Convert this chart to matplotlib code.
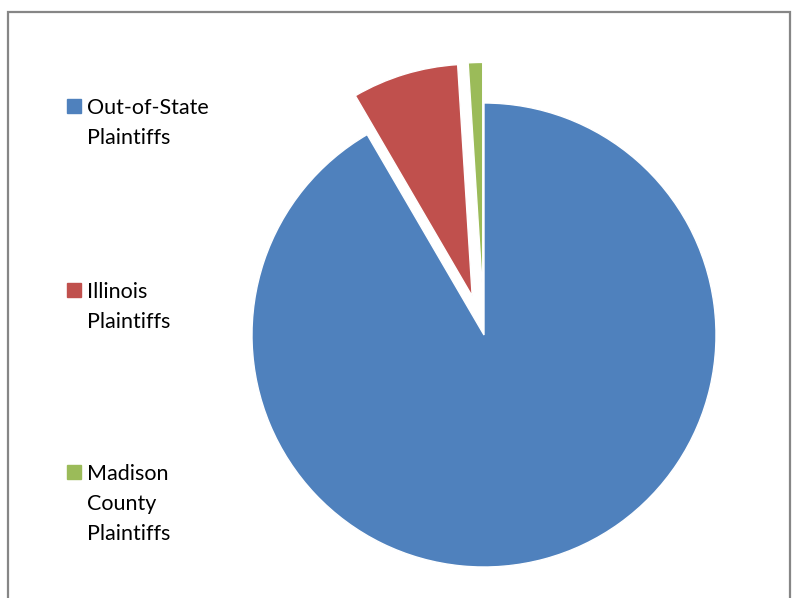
import matplotlib
matplotlib.use("Agg")
import matplotlib.pyplot as plt
from matplotlib.patches import Rectangle

plt.rcParams["font.family"] = ["Lato", "DejaVu Sans"]

# ---------------------------------------------------------------- data
labels = ["Out-of-State\nPlaintiffs", "Illinois\nPlaintiffs", "Madison\nCounty\nPlaintiffs"]
shares = [91.6, 7.4, 1.0]
explode = [0.0, 0.175, 0.175]
colors = ["#4F81BD", "#C0504D", "#9BBB59"]

W, H = 794, 598
fig = plt.figure(figsize=(W / 100, H / 100), dpi=100)

# pie centre (484, 335) px, radius 232 px
cx, cy, r = 484, 335, 232
ax = fig.add_axes([(cx - r) / W, (H - cy - r) / H, 2 * r / W, 2 * r / H])
wedges, _ = ax.pie(shares, colors=colors, explode=explode, startangle=90,
                   counterclock=False, radius=1,
                   wedgeprops=dict(edgecolor="white", linewidth=1.0))
for w in wedges:
    w.set_clip_on(False)
ax.set_xlim(-1, 1)
ax.set_ylim(-1, 1)
ax.set_aspect("equal")
ax.axis("off")

# outer chart border (bottom edge falls outside the picture)
fig.patches.append(Rectangle((8 / W, -0.05), (790 - 8) / W, 1.05 - 12 / H,
                             transform=fig.transFigure, fill=False,
                             edgecolor="#868686", linewidth=1.6))

# legend, drawn by hand to keep the tall Excel-style spacing
first_line_y = [106, 290, 472]
for lab, col, y in zip(labels, colors, first_line_y):
    fig.patches.append(Rectangle((67 / W, 1 - (y + 7) / H), 14 / W, 14 / H,
                                 transform=fig.transFigure, color=col))
    fig.text(87 / W, 1 - (y - 8) / H, lab, ha="left", va="top",
             fontsize=15.5, linespacing=1.62, color="black")

fig.savefig("out.png", dpi=100)
